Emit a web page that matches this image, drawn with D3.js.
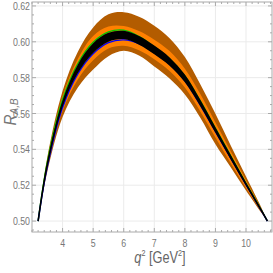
<!DOCTYPE html>
<html>
<head>
<meta charset="utf-8">
<script src="https://cdn.jsdelivr.net/npm/d3@7"></script>
<style>
  body { margin: 0; background: #fff; }
  svg { display: block; }
  text { font-family: "Liberation Sans", "Roboto", sans-serif; }
</style>
</head>
<body>
<div id="chart"></div>
<script>
// q^2 sample points (GeV^2)
var q2 = [3.2, 3.5, 4, 4.5, 5, 5.5, 6, 6.5, 7, 7.5, 8, 8.5, 9, 9.5, 10, 10.5, 10.7]

// band edges
var brownUp   = [0.500, 0.5355, 0.5725, 0.5945, 0.6080, 0.6153, 0.6165, 0.6140, 0.6090, 0.6020, 0.5915, 0.5765, 0.5598, 0.5422, 0.5248, 0.5076, 0.500]
var brownLow  = [0.500, 0.5275, 0.5580, 0.5745, 0.5845, 0.5920, 0.5950, 0.5923, 0.5862, 0.5795, 0.5706, 0.5578, 0.5428, 0.5300, 0.5170, 0.5046, 0.500]
var orangeUp  = [0.500, 0.5337, 0.5695, 0.5905, 0.6033, 0.6085, 0.6088, 0.6060, 0.6012, 0.5948, 0.5850, 0.5710, 0.5550, 0.5390, 0.5228, 0.5068, 0.500]
var orangeLow = [0.500, 0.5293, 0.5613, 0.5790, 0.5897, 0.5963, 0.5978, 0.5953, 0.5903, 0.5837, 0.5745, 0.5613, 0.5466, 0.5323, 0.5184, 0.5052, 0.500]
var blackUp   = [0.500, 0.5325, 0.5673, 0.5874, 0.5992, 0.6050, 0.6061, 0.6032, 0.5979, 0.5913, 0.5817, 0.5678, 0.5524, 0.5368, 0.5214, 0.5064, 0.500]
var blackLow  = [0.500, 0.5305, 0.5637, 0.5826, 0.5938, 0.6000, 0.6015, 0.5984, 0.5931, 0.5867, 0.5775, 0.5642, 0.5492, 0.5344, 0.5198, 0.5056, 0.500]
var greenLine = [0.500, 0.5329, 0.5678, 0.5879, 0.5997, 0.6055, 0.6065, 0.6030, 0.5972, 0.5906, 0.5810, 0.5672, 0.5518, 0.5364, 0.5211, 0.5062, 0.500]
var blueLine  = [0.500, 0.5301, 0.5632, 0.5821, 0.5933, 0.5995, 0.6011, 0.5990, 0.5938, 0.5874, 0.5782, 0.5648, 0.5498, 0.5349, 0.5202, 0.5058, 0.500]

var xTicks = [4, 5, 6, 7, 8, 9, 10]
var yTicks = [0.50, 0.52, 0.54, 0.56, 0.58, 0.60, 0.62]

var width = 273, height = 273
var frame = { left: 32, right: 272, top: 2, bottom: 232 }

var svg = d3.select("#chart").append("svg")
  .attr("width", width)
  .attr("height", height)

var x = d3.scaleLinear().domain([3.0, 10.85]).range([frame.left, frame.right])
var y = d3.scaleLinear().domain([0.4939, 0.6222]).range([frame.bottom, frame.top])

// grid
svg.append("g").selectAll("line").data(xTicks).enter().append("line")
  .attr("x1", d => x(d)).attr("x2", d => x(d))
  .attr("y1", frame.top).attr("y2", frame.bottom)
  .attr("stroke", "#ebebeb")
svg.append("g").selectAll("line").data(yTicks).enter().append("line")
  .attr("y1", d => y(d)).attr("y2", d => y(d))
  .attr("x1", frame.left).attr("x2", frame.right)
  .attr("stroke", "#ebebeb")

var pts = (lo, hi) => q2.map((q, i) => ({ q: q, lo: lo[i], hi: hi[i] }))
var area = d3.area()
  .x(d => x(d.q)).y0(d => y(d.lo)).y1(d => y(d.hi))
  .curve(d3.curveCatmullRom.alpha(0.5))
var line = d3.line()
  .x(d => x(d.q)).y(d => y(d.v))
  .curve(d3.curveCatmullRom.alpha(0.5))

svg.append("path").datum(pts(brownLow, brownUp)).attr("d", area).attr("fill", "#b35c00")
svg.append("path").datum(pts(orangeLow, orangeUp)).attr("d", area).attr("fill", "#ff8000")

var lines = [[greenLine, "#00c800"], [blueLine, "#0000ff"]]
lines.forEach(l => {
  svg.append("path")
    .datum(q2.map((q, i) => ({ q: q, v: l[0][i] })))
    .attr("d", line).attr("fill", "none")
    .attr("stroke", l[1]).attr("stroke-width", 1.3)
})

svg.append("path").datum(pts(blackLow, blackUp)).attr("d", area).attr("fill", "#000")
svg.append("path")
  .datum(q2.map((q, i) => ({ q: q, v: (blackLow[i] + blackUp[i]) / 2 })))
  .attr("d", line).attr("fill", "none").attr("stroke", "#000").attr("stroke-width", 1.6)

// frame
svg.append("rect")
  .attr("x", frame.left).attr("y", frame.top)
  .attr("width", frame.right - frame.left).attr("height", frame.bottom - frame.top)
  .attr("fill", "none").attr("stroke", "#aaa")

var xMinor = d3.range(3.0, 10.85, 0.2)
var yMinor = d3.range(0.495, 0.622, 0.005)
var tickG = svg.append("g").attr("stroke", "#aaa")
xMinor.forEach(v => {
  var major = xTicks.some(t => Math.abs(t - v) < 1e-6)
  var len = major ? 4 : 2
  tickG.append("line").attr("x1", x(v)).attr("x2", x(v)).attr("y1", frame.bottom).attr("y2", frame.bottom - len)
  tickG.append("line").attr("x1", x(v)).attr("x2", x(v)).attr("y1", frame.top).attr("y2", frame.top + len)
})
yMinor.forEach(v => {
  var major = yTicks.some(t => Math.abs(t - v) < 1e-6)
  var len = major ? 4 : 2
  tickG.append("line").attr("y1", y(v)).attr("y2", y(v)).attr("x1", frame.left).attr("x2", frame.left + len)
  tickG.append("line").attr("y1", y(v)).attr("y2", y(v)).attr("x1", frame.right).attr("x2", frame.right - len)
})

// tick labels, squeezed like the condensed face of the original
svg.append("g").selectAll("text").data(xTicks).enter().append("text")
  .attr("transform", d => "translate(" + x(d) + "," + (frame.bottom + 15) + ") scale(0.8,1)")
  .attr("text-anchor", "middle").attr("font-size", 11).attr("fill", "#777")
  .text(d => d)
svg.append("g").selectAll("text").data(yTicks).enter().append("text")
  .attr("transform", d => "translate(" + (frame.left - 2) + "," + (y(d) + 4) + ") scale(0.8,1)")
  .attr("text-anchor", "end").attr("font-size", 11).attr("fill", "#777")
  .text(d => d3.format(".2f")(d))

// axis labels
var xl = svg.append("text").attr("transform", "translate(160,263) scale(0.8,1)")
  .attr("text-anchor", "middle").attr("font-size", 16).attr("fill", "#666")
xl.append("tspan").attr("font-style", "italic").text("q")
xl.append("tspan").attr("font-size", 9).attr("dy", -7).text("2")
xl.append("tspan").attr("dy", 7).text(" [GeV")
xl.append("tspan").attr("font-size", 9).attr("dy", -7).text("2")
xl.append("tspan").attr("dy", 7).text("]")

var yl = svg.append("text").attr("transform", "translate(16,112) rotate(-90) scale(0.9,1)")
  .attr("text-anchor", "middle").attr("font-size", 17).attr("fill", "#777")
yl.append("tspan").attr("font-style", "italic").text("R")
yl.append("tspan").attr("font-size", 11).attr("font-style", "italic").attr("dy", 2).text("A,B")
</script>
</body>
</html>
